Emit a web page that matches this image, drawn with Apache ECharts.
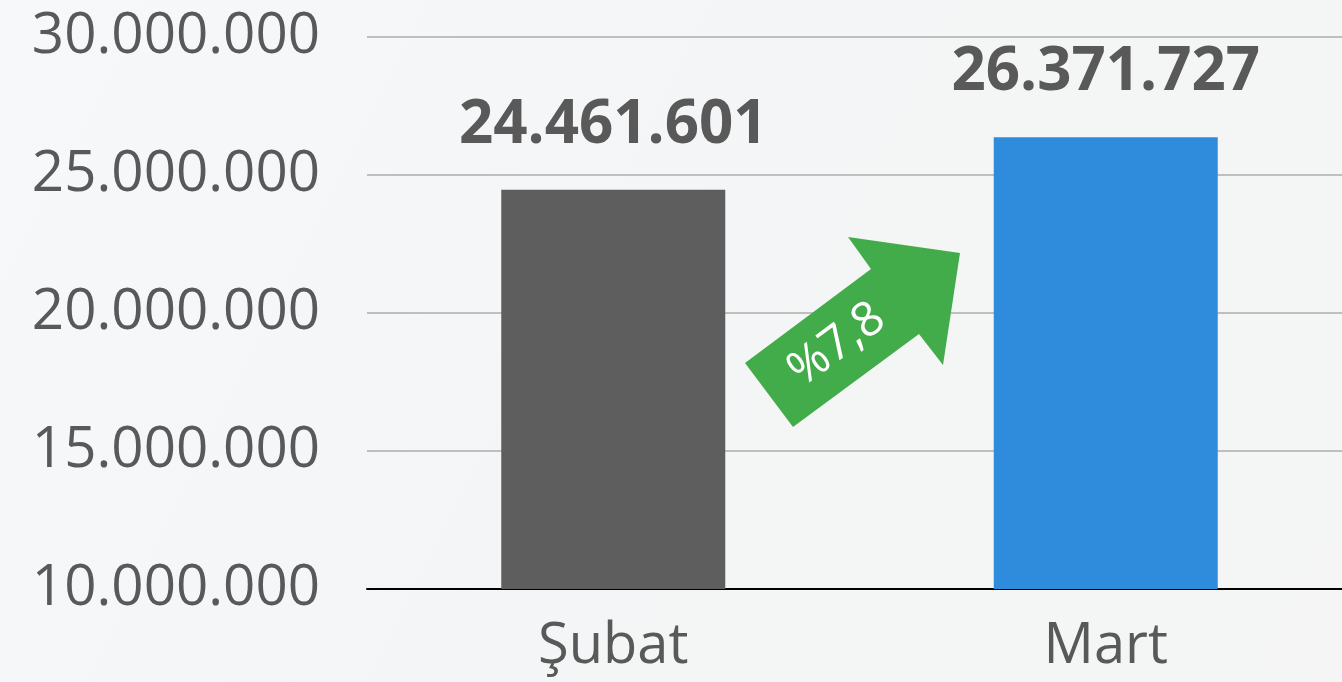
<!DOCTYPE html>
<html><head><meta charset="utf-8">
<script src="https://cdn.jsdelivr.net/npm/echarts@6/dist/echarts.min.js"></script>
<style>html,body{margin:0;padding:0;overflow:hidden;width:1342px;height:682px;}#c{width:1352px;height:682px;}</style>
</head><body><div id="c"></div>
<script>
const categories = ['Şubat', 'Mart'];
const values = [24461601, 26371727];
const barColors = ['#5e5e5e', '#2f8bdb'];
const changeLabel = '%7,8';
const yMin = 10000000, yMax = 30000000, yStep = 5000000;

function fmt(v){ return String(v).replace(/\B(?=(\d{3})+(?!\d))/g, '.'); }

const chart = echarts.init(document.getElementById('c'), null, {renderer:'canvas'});
const font = '"Open Sans", "DejaVu Sans", sans-serif';
chart.setOption({
  backgroundColor: {type:'linear', x:0, y:0, x2:1, y2:1, colorStops:[
    {offset:0, color:'#f7f8f9'},{offset:0.5, color:'#f4f5f6'},{offset:1, color:'#f5f5f5'}]},
  animation:false,
  grid:{left:367, right:0, top:37, bottom:93, containLabel:false},
  xAxis:{type:'category', data:categories,
    axisLine:{lineStyle:{color:'#000', width:2}}, axisTick:{show:false},
    axisLabel:{color:'#595959', fontSize:56, fontFamily:font, margin:30}},
  yAxis:{type:'value', min:yMin, max:yMax, interval:yStep,
    axisLine:{show:false}, axisTick:{show:false},
    splitLine:{lineStyle:{color:'#bfbfbf', width:2}},
    axisLabel:{color:'#595959', fontSize:56.5, fontFamily:font, margin:47, formatter:fmt}},
  series:[{type:'bar', barWidth:224,
    data: values.map((v,i)=>({value:v, itemStyle:{color:barColors[i]}})),
    label:{show:true, position:'top', distance:34, color:'#595959', fontSize:60, fontWeight:'bold', fontFamily:font,
      formatter:p=>fmt(p.value)}}],
  graphic:[
    {type:'polygon', z:100, shape:{points:[[745,363],[793,427],[919,334],[943,365],[960,253],[848,237],[871,269]]},
      style:{fill:'#43ac4a'}},
    {type:'text', z:101, x:837, y:345, rotation:36.5*Math.PI/180,
      style:{text:changeLabel, fill:'#fff', fontSize:48, fontFamily:font, align:'center', verticalAlign:'middle'}}
  ]
});
</script></body></html>
